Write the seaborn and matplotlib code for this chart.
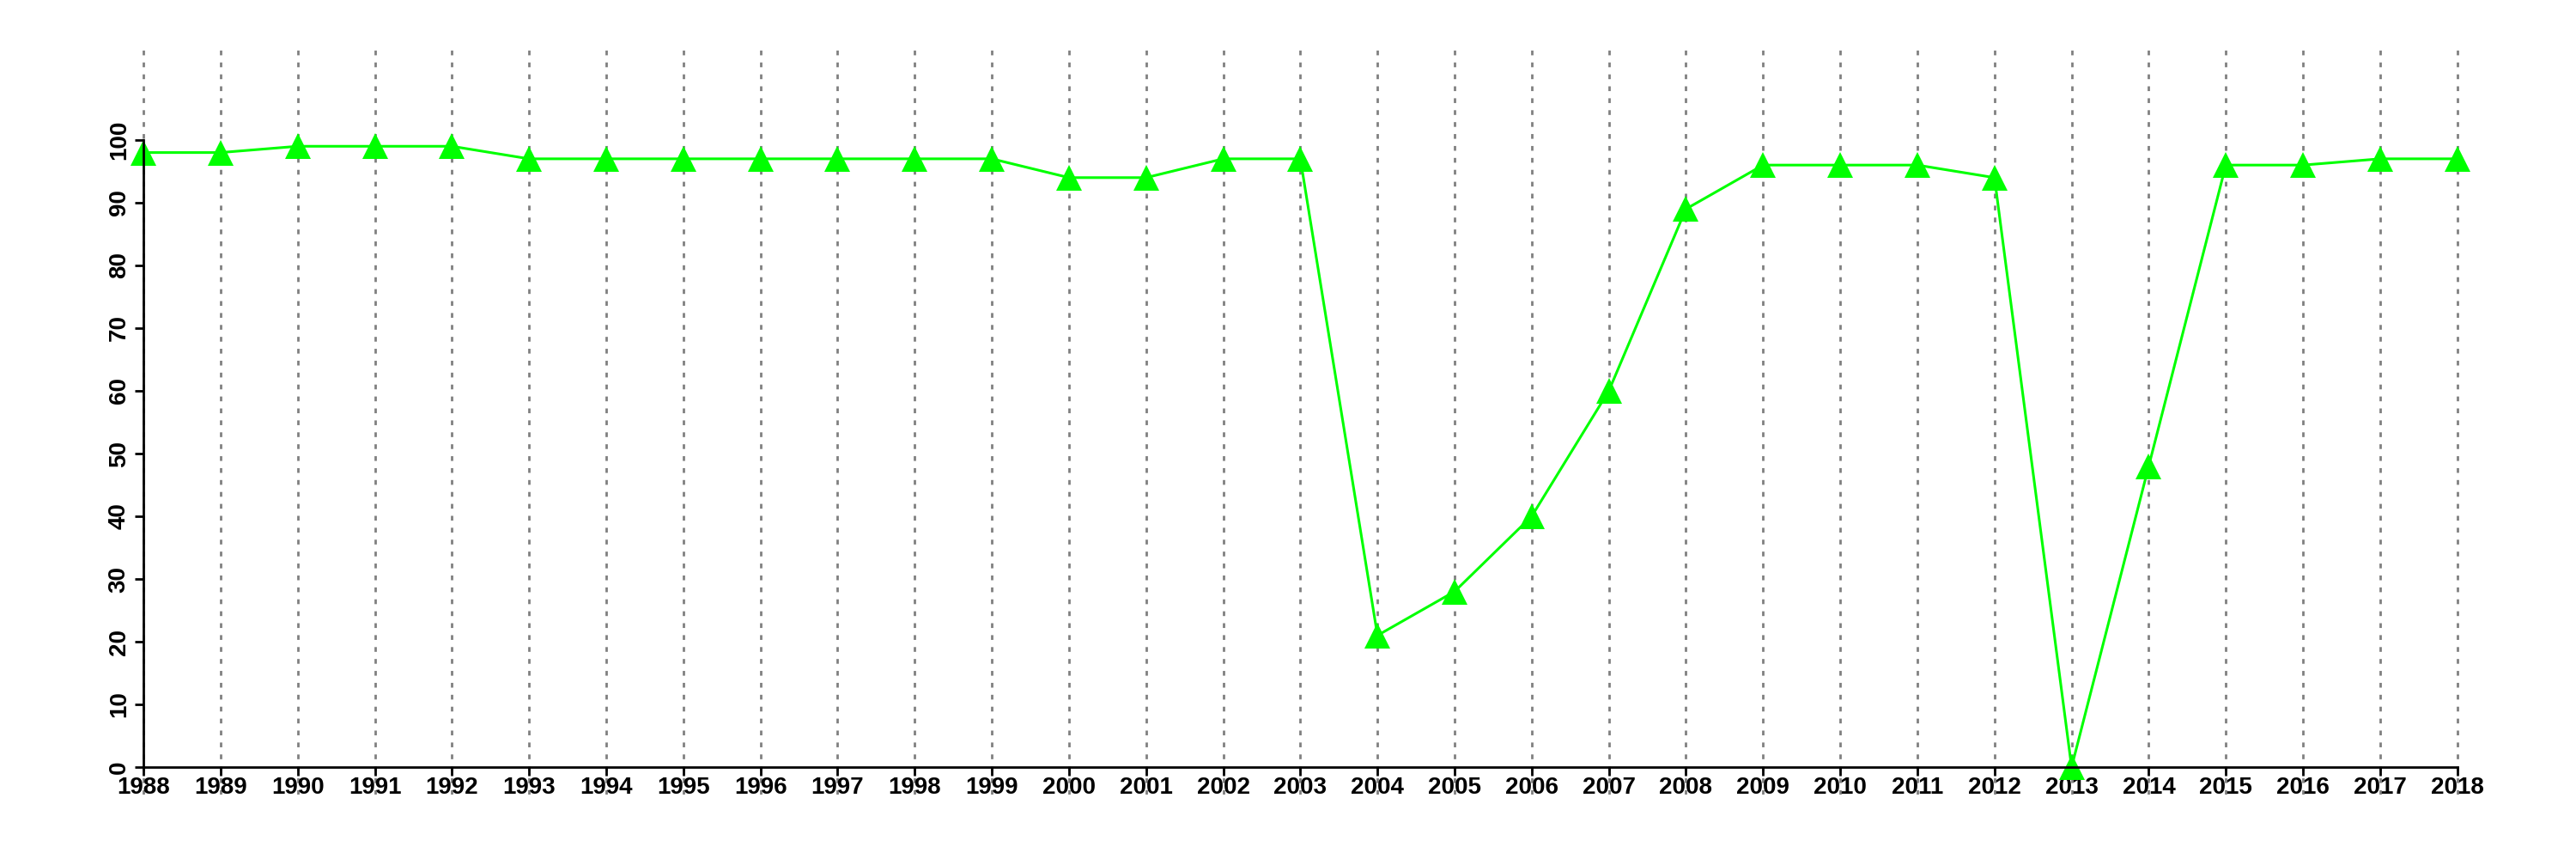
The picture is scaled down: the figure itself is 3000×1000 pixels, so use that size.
import pandas as pd
import matplotlib.pyplot as plt
import seaborn as sns

# Values
years = list(range(1988, 2019))
values = [98, 98, 99, 99, 99, 97, 97, 97, 97, 97, 97, 97, 94, 94, 97, 97,
          21, 28, 40, 60, 89, 96, 96, 96, 94, 0, 48, 96, 96, 97, 97]
y_ticks = list(range(0, 101, 10))

df = pd.DataFrame({"year": years, "value": values})

sns.set_theme(style="white")
plt.rcParams['font.family'] = ['Liberation Sans', 'DejaVu Sans']

fig = plt.figure(figsize=(30, 10), dpi=100)
ax = fig.add_axes([0, 0.075, 1, 0.867])

sns.lineplot(data=df, x="year", y="value", ax=ax, color="#00ff00",
             linewidth=2.2, marker="^", markersize=22, markeredgewidth=0,
             markerfacecolor="#00ff00", clip_on=False)

ax.set_xlim(1986.14, 2019.54)
ax.set_ylim(-4.38, 114.38)
ax.set_xticks(years)
ax.set_xticklabels([str(y) for y in years])
ax.set_yticks(y_ticks)
ax.set_yticklabels([str(t) for t in y_ticks])

for s in ["top", "right"]:
    ax.spines[s].set_visible(False)
ax.spines["left"].set_bounds(0, 100)
ax.spines["bottom"].set_bounds(1988, 2018)
ax.spines["bottom"].set_position(("data", 0))
ax.spines["left"].set_position(("data", 1988))
for s in ["left", "bottom"]:
    ax.spines[s].set_color("black")
    ax.spines[s].set_linewidth(2)

ax.tick_params(axis="both", which="major", direction="out", length=7, width=2,
               color="black", labelcolor="black", labelsize=20, pad=1,
               bottom=True, left=True)
ax.tick_params(axis="y", labelrotation=90, pad=4)
for lbl in ax.get_yticklabels():
    lbl.set_verticalalignment("center")
for lbl in ax.get_xticklabels() + ax.get_yticklabels():
    lbl.set_fontweight("bold")

ax.grid(axis="x", color="gray", linestyle=(0, (2, 3)), linewidth=2)
ax.grid(axis="y", visible=False)
ax.set_xlabel("")
ax.set_ylabel("")
ax.set_facecolor("white")
ax.set_axisbelow(True)

fig.savefig("out.png", dpi=100)
